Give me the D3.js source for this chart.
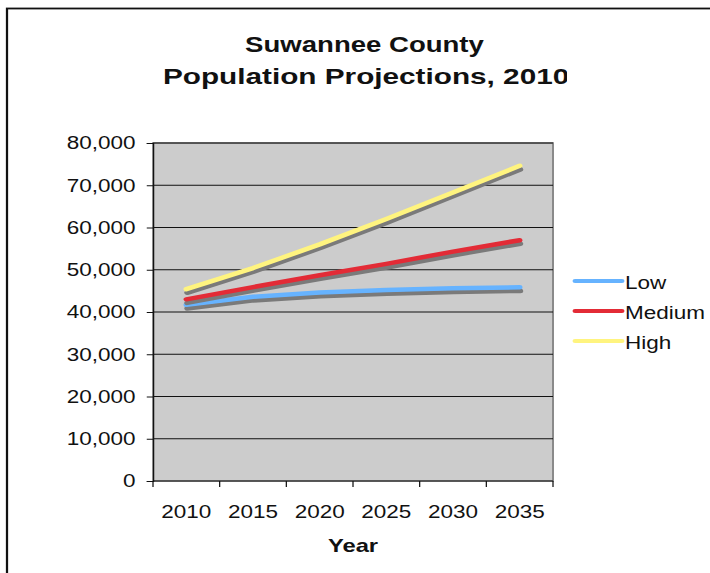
<!DOCTYPE html>
<html>
<head>
<meta charset="utf-8">
<script src="https://cdn.jsdelivr.net/npm/d3@7"></script>
<style>
  html, body { margin: 0; padding: 0; background: #fff; overflow: hidden; }
  svg { display: block; }
</style>
</head>
<body>
<div id="chart"></div>
<script>
// Chart data
const years = ["2010", "2015", "2020", "2025", "2030", "2035"];
const lowValues = [41700, 43600, 44600, 45200, 45600, 45850];
const mediumValues = [43000, 45900, 48700, 51400, 54300, 57000];
const highValues = [45400, 50400, 56000, 62000, 68300, 74600];
const seriesNames = ["Low", "Medium", "High"];
const yTicks = [0, 10000, 20000, 30000, 40000, 50000, 60000, 70000, 80000];
const titleLines = ["Suwannee County", "Population Projections, 2010"];
const xTitle = "Year";

const colors = ["#66B3FF", "#E32B36", "#FFF47F"];

// the original picture is stretched sideways, so draw in a narrower box and stretch it
const stretch = 1.25;
const W = 710, H = 573;
const iw = W / stretch;

const svg = d3.select("#chart").append("svg")
  .attr("width", W)
  .attr("height", H)
  .attr("viewBox", `0 0 ${iw} ${H}`)
  .attr("preserveAspectRatio", "none");

// outer chart frame (runs off the page on the right and bottom)
svg.append("rect")
  .attr("x", 5.6).attr("y", 8.5)
  .attr("width", iw + 20).attr("height", H + 20)
  .attr("fill", "#fff")
  .attr("stroke", "#111")
  .attr("stroke-width", 1.8);

const plot = { left: 122.4, right: 442.4, top: 143, bottom: 481 };

const x = d3.scaleBand().domain(years).range([plot.left, plot.right]);
const y = d3.scaleLinear().domain([0, 80000]).range([plot.bottom, plot.top]);

// plot background
svg.append("rect")
  .attr("x", plot.left).attr("y", plot.top)
  .attr("width", plot.right - plot.left).attr("height", plot.bottom - plot.top)
  .attr("fill", "#CCCCCC")
  .attr("stroke", "#8a8a8a")
  .attr("stroke-width", 1.6);

// gridlines
svg.append("g")
  .selectAll("line")
  .data(yTicks.filter(d => d > 0))
  .join("line")
  .attr("x1", plot.left).attr("x2", plot.right)
  .attr("y1", d => y(d)).attr("y2", d => y(d))
  .attr("stroke", "#111")
  .attr("stroke-width", 1);

// y axis
const yAxis = svg.append("g")
  .attr("transform", `translate(${plot.left},0)`)
  .call(d3.axisLeft(y).tickValues(yTicks).tickFormat(d3.format(",")).tickSize(5).tickPadding(9));
yAxis.select(".domain").attr("stroke", "#111").attr("stroke-width", 1);
yAxis.selectAll(".tick line").attr("stroke", "#111");
yAxis.selectAll("text")
  .attr("font-family", "'Liberation Sans', Arial, sans-serif")
  .attr("font-size", 18)
  .attr("fill", "#111");

// x axis: ticks between categories, labels in the middle
const xAxis = svg.append("g").attr("transform", `translate(0,${plot.bottom})`);
xAxis.append("line")
  .attr("x1", plot.left).attr("x2", plot.right)
  .attr("stroke", "#111").attr("stroke-width", 1.2);
const edges = years.map(d => x(d)).concat([x(years[years.length - 1]) + x.bandwidth()]);
xAxis.selectAll("line.tick")
  .data(edges)
  .join("line")
  .attr("class", "tick")
  .attr("x1", d => d).attr("x2", d => d)
  .attr("y1", 0).attr("y2", 6)
  .attr("stroke", "#111");
xAxis.selectAll("text")
  .data(years)
  .join("text")
  .attr("x", d => x(d) + x.bandwidth() / 2)
  .attr("y", 37)
  .attr("text-anchor", "middle")
  .attr("font-family", "'Liberation Sans', Arial, sans-serif")
  .attr("font-size", 18)
  .attr("fill", "#111")
  .text(d => d);

// x axis title
svg.append("text")
  .attr("x", (plot.left + plot.right) / 2)
  .attr("y", 552)
  .attr("text-anchor", "middle")
  .attr("font-family", "'Liberation Sans', Arial, sans-serif")
  .attr("font-weight", "bold")
  .attr("font-size", 19)
  .attr("fill", "#111")
  .text(xTitle);

// chart title, second line is cut off by the title box
svg.append("defs").append("clipPath")
  .attr("id", "title-clip")
  .append("rect")
  .attr("x", 0).attr("y", 0).attr("width", 453.5).attr("height", 120);

svg.append("text")
  .attr("x", 291.6)
  .attr("y", 52)
  .attr("text-anchor", "middle")
  .attr("font-family", "'Liberation Sans', Arial, sans-serif")
  .attr("font-weight", "bold")
  .attr("font-size", 22)
  .attr("textLength", 191)
  .attr("lengthAdjust", "spacingAndGlyphs")
  .attr("fill", "#111")
  .text(titleLines[0]);

svg.append("text")
  .attr("clip-path", "url(#title-clip)")
  .attr("x", 130.4)
  .attr("y", 84)
  .attr("font-family", "'Liberation Sans', Arial, sans-serif")
  .attr("font-weight", "bold")
  .attr("font-size", 22)
  .attr("textLength", 325)
  .attr("lengthAdjust", "spacingAndGlyphs")
  .attr("fill", "#111")
  .text(titleLines[1]);

// series lines, each with a grey drop shadow
const allValues = [lowValues, mediumValues, highValues];
const line = d3.line()
  .x((d, i) => x(years[i]) + x.bandwidth() / 2)
  .y(d => y(d));

const seriesG = svg.append("g");
allValues.forEach((vals, i) => {
  seriesG.append("path")
    .attr("d", line(vals))
    .attr("transform", "translate(0.6,3.6)")
    .attr("fill", "none")
    .attr("stroke", "#7a7a7a")
    .attr("stroke-width", 4.5)
    .attr("stroke-linecap", "round")
    .attr("stroke-linejoin", "round");
  seriesG.append("path")
    .attr("d", line(vals))
    .attr("fill", "none")
    .attr("stroke", colors[i])
    .attr("stroke-width", 4.5)
    .attr("stroke-linecap", "round")
    .attr("stroke-linejoin", "round");
});

// legend
const legend = svg.append("g").attr("transform", "translate(460,281)");
const item = legend.selectAll("g")
  .data(seriesNames)
  .join("g")
  .attr("transform", (d, i) => `translate(0,${i * 30})`);
item.append("line")
  .attr("x1", 0).attr("x2", 37.6)
  .attr("stroke", (d, i) => colors[i])
  .attr("stroke-width", 4)
  .attr("stroke-linecap", "round");
item.append("text")
  .attr("x", 40)
  .attr("y", 7.5)
  .attr("font-family", "'Liberation Sans', Arial, sans-serif")
  .attr("font-size", 18)
  .attr("fill", "#111")
  .text(d => d);
</script>
</body>
</html>
